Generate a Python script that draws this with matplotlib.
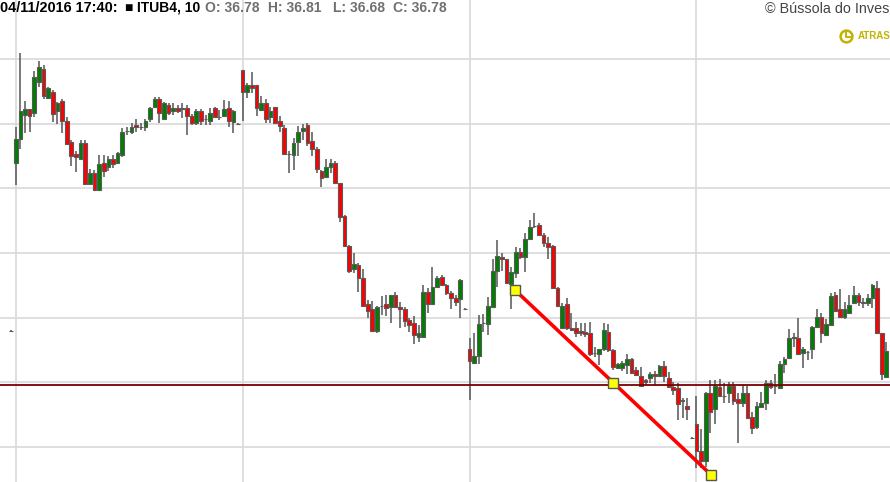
import matplotlib.pyplot as plt
import numpy as np

# ITUB4, 10 minute candles (last bar of 28/10, then 31/10, 01/11, 03/11, 04/11)
open_ = [37.69,
    39.37, 39.61, 39.85, 39.91, 39.87, 40.18, 40.31, 40.02, 40.08, 39.89,
    39.99, 39.79, 39.58, 39.46, 39.41, 39.57, 39.16, 39.27, 39.10, 39.37,
    39.33, 39.41, 39.37, 39.45, 39.69, 39.68, 39.75, 39.73, 39.73, 39.81,
    39.93, 40.01, 39.81, 39.95, 39.89, 39.92, 39.91, 39.92, 39.84, 39.77,
    39.89, 39.81, 39.79, 39.92, 39.83, 39.84, 39.92, 39.78, 39.76,
    40.30, 40.08, 40.15, 40.15, 39.90, 39.97, 39.83, 39.93, 39.79, 39.72,
    39.46, 39.45, 39.58, 39.69, 39.75, 39.59, 39.51, 39.29, 39.23, 39.33,
    39.37, 39.17, 38.84, 38.54, 38.31, 38.35, 38.22, 37.96, 37.91, 37.69,
    37.94, 37.96, 37.93, 38.05, 37.93, 37.91, 37.80, 37.77, 37.63, 37.63,
    38.08, 37.96, 38.13, 38.23, 38.15, 38.07, 38.02, 38.01, 37.91,
    37.51, 37.37, 37.44, 37.77, 37.76, 37.93, 38.29, 38.43, 38.41, 38.16,
    38.27, 38.48, 38.43, 38.61, 38.74, 38.75, 38.65, 38.57, 38.54, 38.12,
    37.72, 37.96, 37.72, 37.72, 37.69, 37.68, 37.67, 37.47, 37.46, 37.51,
    37.68, 37.50, 37.32, 37.32, 37.35, 37.41, 37.30, 37.24, 37.20, 37.22,
    37.26, 37.24, 37.34, 37.22, 37.13, 37.12, 37.00, 36.94, 36.62,
    36.76, 36.49, 36.39, 37.07, 36.91, 37.13, 37.04, 37.07, 37.14, 37.01,
    36.97, 37.07, 36.83, 36.73, 36.93, 36.97, 37.17, 37.14, 37.12, 37.36,
    37.42, 37.63, 37.62, 37.47, 37.48, 37.51, 37.73, 37.83, 37.65, 37.75,
    38.05, 37.91, 37.83, 37.87, 37.97, 38.05, 37.98, 37.97, 38.02, 38.12,
    37.67, 37.23]
high = [37.70,
    39.73, 40.47, 39.99, 39.91, 40.29, 40.39, 40.35, 40.13, 40.10, 39.98,
    40.01, 39.83, 39.60, 39.49, 39.60, 39.60, 39.31, 39.30, 39.45, 39.45,
    39.44, 39.45, 39.48, 39.72, 39.73, 39.77, 39.81, 39.77, 39.81, 39.93,
    40.03, 40.03, 39.98, 39.97, 39.97, 39.95, 39.97, 39.95, 39.86, 39.91,
    39.91, 39.85, 39.92, 39.93, 39.90, 40.00, 39.99, 39.90, 39.77,
    40.30, 40.17, 40.28, 40.15, 40.04, 40.01, 39.93, 39.93, 39.84, 39.75,
    39.49, 39.62, 39.74, 39.76, 39.77, 39.68, 39.53, 39.30, 39.41, 39.41,
    39.39, 39.17, 38.85, 38.55, 38.47, 38.37, 38.31, 38.00, 37.99, 37.94,
    38.04, 38.05, 38.05, 38.08, 37.98, 37.93, 37.82, 37.84, 37.75, 38.15,
    38.12, 38.33, 38.24, 38.25, 38.16, 38.09, 38.05, 38.21, 37.92,
    37.62, 37.67, 37.85, 37.86, 38.03, 38.41, 38.60, 38.47, 38.41, 38.33,
    38.53, 38.52, 38.67, 38.80, 38.87, 38.77, 38.67, 38.63, 38.55, 38.13,
    37.97, 38.02, 37.87, 37.78, 37.77, 37.77, 37.78, 37.53, 37.51, 37.77,
    37.76, 37.51, 37.37, 37.39, 37.46, 37.42, 37.33, 37.33, 37.21, 37.28,
    37.29, 37.35, 37.39, 37.28, 37.18, 37.17, 37.02, 37.02, 36.63,
    37.04, 36.71, 37.08, 37.20, 37.20, 37.21, 37.17, 37.18, 37.18, 37.07,
    37.15, 37.14, 36.88, 36.98, 37.08, 37.20, 37.20, 37.26, 37.39, 37.43,
    37.71, 37.67, 37.82, 37.53, 37.49, 37.74, 37.91, 37.87, 37.81, 38.07,
    38.08, 38.11, 37.98, 38.05, 38.14, 38.07, 38.02, 38.06, 38.16, 38.19,
    37.67, 37.58]
low = [37.68,
    39.15, 39.51, 39.67, 39.68, 39.83, 40.13, 40.01, 40.01, 39.78, 39.76,
    39.67, 39.55, 39.34, 39.28, 39.40, 39.15, 39.15, 39.09, 39.09, 39.23,
    39.29, 39.32, 39.36, 39.43, 39.65, 39.66, 39.68, 39.70, 39.69, 39.78,
    39.92, 39.77, 39.80, 39.85, 39.85, 39.87, 39.82, 39.65, 39.75, 39.75,
    39.75, 39.75, 39.75, 39.82, 39.80, 39.83, 39.73, 39.67, 39.75,
    39.79, 40.02, 40.07, 39.84, 39.89, 39.77, 39.77, 39.77, 39.68, 39.45,
    39.27, 39.30, 39.44, 39.60, 39.54, 39.44, 39.27, 39.13, 39.22, 39.27,
    39.16, 38.78, 38.53, 38.27, 38.27, 38.08, 37.93, 37.82, 37.68, 37.67,
    37.85, 37.84, 37.77, 37.92, 37.72, 37.73, 37.68, 37.56, 37.58, 37.63,
    37.87, 37.95, 38.12, 38.14, 38.05, 37.91, 37.94, 37.82, 37.90,
    37.00, 37.36, 37.36, 37.68, 37.65, 37.92, 38.13, 38.29, 38.16, 37.91,
    38.22, 38.41, 38.28, 38.60, 38.72, 38.64, 38.53, 38.41, 38.11, 37.93,
    37.71, 37.70, 37.69, 37.63, 37.64, 37.63, 37.44, 37.43, 37.35, 37.49,
    37.48, 37.30, 37.31, 37.29, 37.26, 37.27, 37.24, 37.13, 37.15, 37.17,
    37.15, 37.23, 37.18, 37.12, 37.05, 36.80, 36.82, 36.80, 36.61,
    36.32, 36.32, 36.33, 36.67, 36.76, 37.03, 36.97, 36.97, 36.95, 36.57,
    36.93, 36.81, 36.66, 36.71, 36.93, 36.90, 37.11, 37.06, 37.11, 37.27,
    37.41, 37.53, 37.45, 37.32, 37.40, 37.41, 37.72, 37.57, 37.64, 37.74,
    37.88, 37.82, 37.81, 37.86, 37.97, 37.94, 37.92, 37.94, 37.92, 37.67,
    37.20, 37.22]
close = [37.69,
    39.61, 39.89, 39.91, 39.84, 40.23, 40.33, 40.04, 40.12, 39.86, 39.97,
    39.79, 39.56, 39.44, 39.43, 39.57, 39.16, 39.27, 39.10, 39.36, 39.29,
    39.41, 39.36, 39.47, 39.68, 39.69, 39.73, 39.73, 39.73, 39.79, 39.92,
    40.01, 39.87, 39.97, 39.87, 39.92, 39.89, 39.92, 39.84, 39.77, 39.89,
    39.79, 39.81, 39.87, 39.83, 39.83, 39.91, 39.79, 39.89, 39.76,
    40.08, 40.15, 40.12, 39.92, 39.97, 39.81, 39.89, 39.77, 39.74, 39.46,
    39.46, 39.57, 39.68, 39.72, 39.57, 39.51, 39.31, 39.22, 39.33, 39.37,
    39.17, 38.83, 38.54, 38.29, 38.36, 38.22, 37.94, 37.89, 37.69, 37.93,
    37.94, 37.92, 38.05, 37.93, 37.91, 37.79, 37.75, 37.65, 37.67, 38.08,
    37.96, 38.13, 38.22, 38.15, 38.07, 38.02, 37.98, 38.20, 37.91,
    37.39, 37.44, 37.76, 37.77, 37.94, 38.29, 38.44, 38.41, 38.17, 38.28,
    38.48, 38.43, 38.61, 38.73, 38.74, 38.65, 38.57, 38.53, 38.12, 37.94,
    37.94, 37.72, 37.70, 37.67, 37.67, 37.66, 37.46, 37.47, 37.51, 37.70,
    37.50, 37.33, 37.36, 37.37, 37.41, 37.27, 37.25, 37.14, 37.18, 37.26,
    37.24, 37.34, 37.24, 37.13, 37.10, 36.96, 36.99, 36.91, 36.62,
    36.49, 36.39, 37.07, 36.88, 37.14, 37.04, 37.04, 37.14, 36.99, 36.97,
    37.07, 36.82, 36.72, 36.94, 36.97, 37.17, 37.13, 37.14, 37.36, 37.41,
    37.62, 37.62, 37.46, 37.51, 37.48, 37.73, 37.83, 37.67, 37.76, 38.04,
    37.89, 37.83, 37.91, 37.95, 38.05, 37.98, 37.97, 38.02, 38.15, 37.67,
    37.26, 37.49]

day_starts = [1, 50, 99, 148]
grid_levels = [36.53, 37.18, 37.82, 38.47, 39.12, 39.76, 40.41]
last_price = 37.15

# drawn trend line, the middle handle sits halfway
trend_x = [108.8, 151.2]
trend_y = [38.10, 36.25]

fig = plt.figure(figsize=(8.9, 4.82), dpi=100)
ax = fig.add_axes([0, 0, 1, 1])

x = np.arange(len(close))
o = np.array(open_)
c = np.array(close)
colors = np.where(c > o, '#008000', np.where(c < o, '#ff0000', '#777777'))

for lvl in grid_levels:
    ax.axhline(lvl, color='#d9d9d9', lw=1.2, zorder=0)
for d in day_starts:
    ax.axvline(d, color='#d9d9d9', lw=1.2, zorder=0)

ax.vlines(x, low, high, color='#555555', lw=1.1, zorder=2)
ax.bar(x, c - o, bottom=o, width=0.8, color=colors, edgecolor='#5a5a5a',
       linewidth=0.8, zorder=3)

ax.axhline(last_price, color='#7b0000', lw=1.3, zorder=4)

tx = [trend_x[0], (trend_x[0] + trend_x[1]) / 2, trend_x[1]]
ty = [trend_y[0], (trend_y[0] + trend_y[1]) / 2, trend_y[1]]
ax.plot(tx, ty, color='#ff0000', lw=2.6, zorder=5, solid_capstyle='butt')
ax.plot(tx, ty, 's', ms=6.5, mfc='#ffff00', mec='#555555', mew=1, zorder=6)

ax.set_xlim(-2.4, 189.8)
ax.set_ylim(36.18, 41.0)
ax.axis('off')

W, H = 890, 482
fam = ['Liberation Sans', 'DejaVu Sans']
fig.text(0 / W, 1 - 8 / H, '04/11/2016 17:40:', family=fam, weight='bold',
         fontsize=10.4, color='black', va='center')
fig.text(124 / W, 1 - 8 / H, '■', family=fam, fontsize=10, color='black', va='center')
fig.text(137 / W, 1 - 8 / H, 'ITUB4, 10', family=fam, weight='bold',
         fontsize=10, color='black', va='center')
fig.text(205 / W, 1 - 8 / H, 'O: 36.78', family=fam, weight='bold',
         fontsize=10, color='#707070', va='center')
fig.text(268 / W, 1 - 8 / H, 'H: 36.81', family=fam, weight='bold',
         fontsize=10, color='#707070', va='center')
fig.text(333 / W, 1 - 8 / H, 'L: 36.68', family=fam, weight='bold',
         fontsize=10, color='#707070', va='center')
fig.text(393 / W, 1 - 8 / H, 'C: 36.78', family=fam, weight='bold',
         fontsize=10, color='#707070', va='center')

fig.text(765 / W, 1 - 9 / H, '© Bússola do Inves', family=fam,
         fontsize=10.4, color='#444444', va='center')

olive = '#c4b200'
ax.plot([846 / W], [1 - 36 / H], 'o', ms=8.5, mfc='none', mec=olive, mew=1.8,
        transform=fig.transFigure, clip_on=False)
ax.plot([846 / W, 846 / W, 850 / W], [1 - 32 / H, 1 - 37 / H, 1 - 37 / H],
        color=olive, lw=1.4, transform=fig.transFigure, clip_on=False)
fig.text(858 / W, 1 - 36 / H, 'ATRAS', family=fam, weight='bold',
         fontsize=7, color=olive, va='center')

plt.savefig('out.png', dpi=100)
